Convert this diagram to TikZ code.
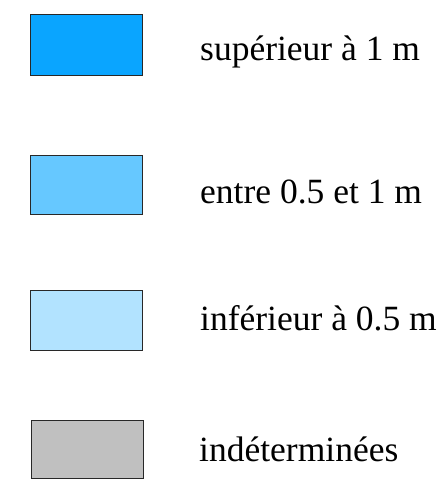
\documentclass[tikz,border=0pt]{standalone}
\usepackage{fontspec}
\setmainfont{Liberation Serif}
\definecolor{c1}{RGB}{10,165,255}
\definecolor{c2}{RGB}{102,200,255}
\definecolor{c3}{RGB}{178,227,255}
\definecolor{c4}{RGB}{192,192,192}
\definecolor{edge}{RGB}{40,40,40}
\begin{document}
\begin{tikzpicture}[x=1pt,y=-1pt,
  swatch/.style={draw=edge,line width=1pt},
  lbl/.style={anchor=base west,inner sep=0pt,font=\fontsize{35.5}{38}\selectfont}]
\useasboundingbox (0,0) rectangle (444,482);
\filldraw[swatch,fill=c1] (30,14) rectangle (142,75);
\filldraw[swatch,fill=c2] (30,155) rectangle (142,214);
\filldraw[swatch,fill=c3] (30,290) rectangle (142,350);
\filldraw[swatch,fill=c4] (31,420) rectangle (143,478);
\node[lbl] (t1) at (200,60) {supérieur à 1 m};
\node[lbl] (t2) at (200,203) {entre 0.5 et 1 m};
\node[lbl] (t3) at (200,330) {inférieur à 0.5 m};
\node[lbl] (t4) at (199,461) {indéterminées};
\end{tikzpicture}
\end{document}
